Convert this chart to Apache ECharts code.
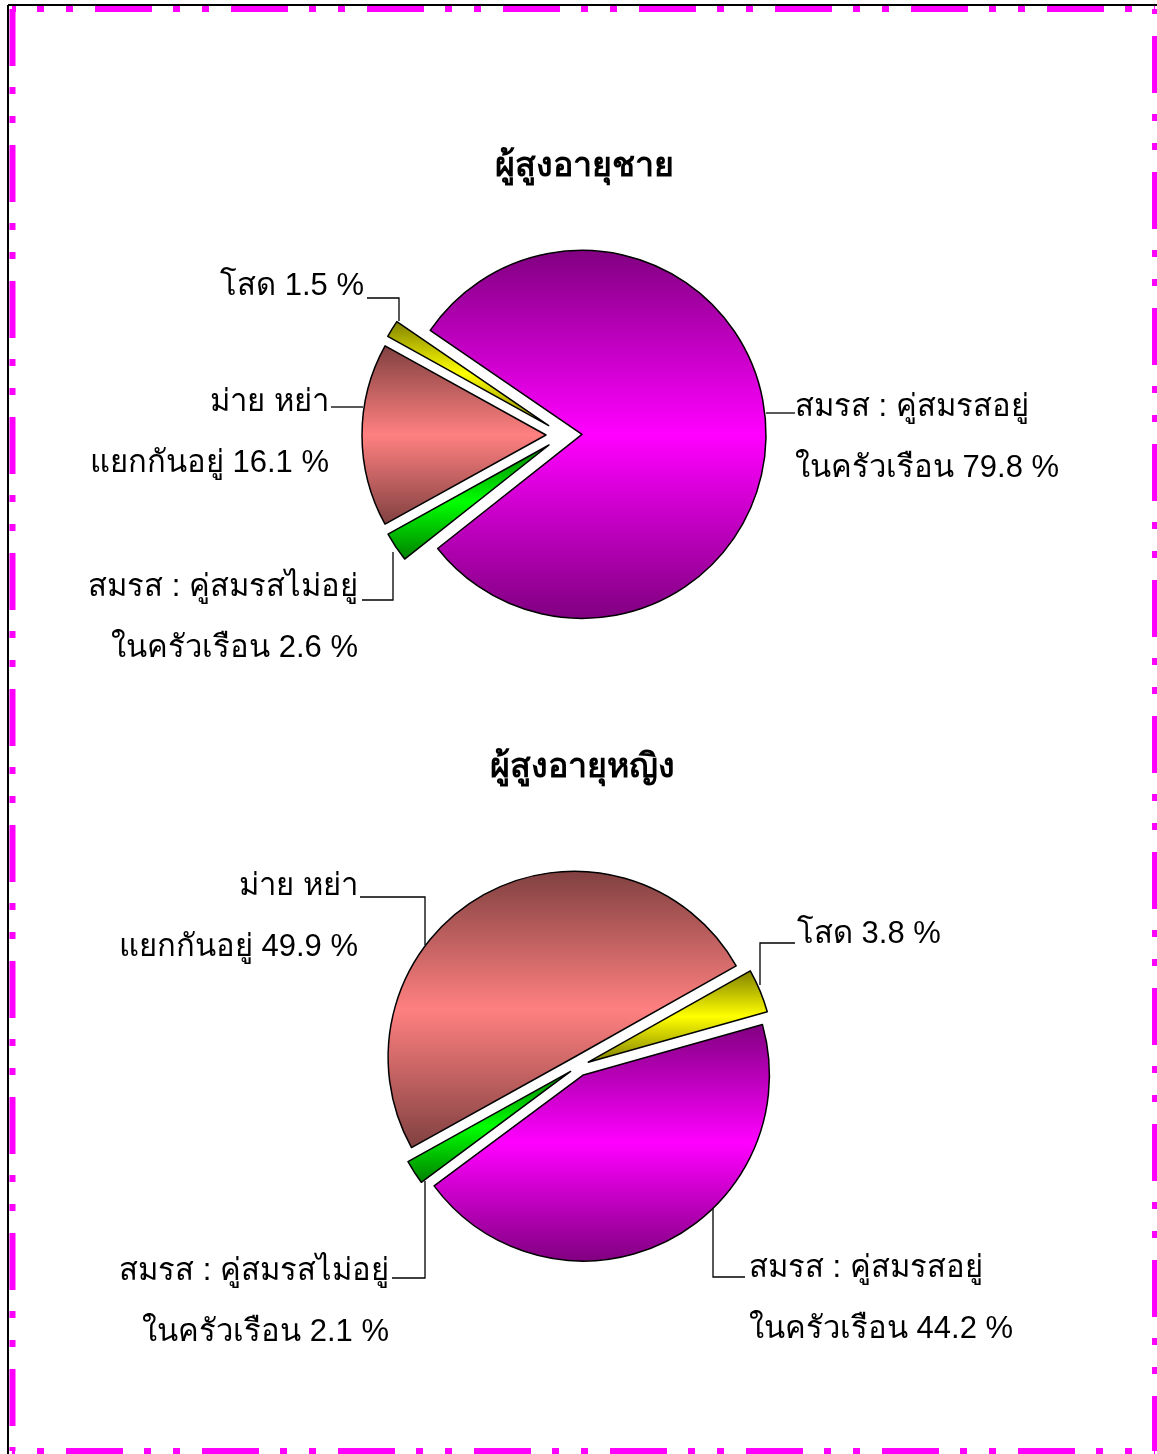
<!DOCTYPE html>
<html>
<head>
<meta charset="utf-8">
<title>ผู้สูงอายุ สถานภาพสมรส</title>
<script src="https://cdn.jsdelivr.net/npm/echarts@6/dist/echarts.min.js"></script>
<style>
  html, body { margin: 0; padding: 0; background: #fff; }
  #chart { width: 1157px; height: 1454px; }
</style>
</head>
<body>
<div id="chart"></div>
<script>
// categories, clockwise from the start angle
var categories = ['โสด', 'สมรส : คู่สมรสอยู่\nในครัวเรือน', 'สมรส : คู่สมรสไม่อยู่\nในครัวเรือน', 'ม่าย หย่า\nแยกกันอยู่']
var maleValues = [1.5, 79.8, 2.6, 16.1]
var femaleValues = [3.8, 44.2, 2.1, 49.9]
var titles = ['ผู้สูงอายุชาย', 'ผู้สูงอายุหญิง']

var brights = ['#ffff00', '#ff00ff', '#00ff00', '#ff8080']
var darks = ['#808000', '#800080', '#008000', '#804040']

var font = 'Liberation Sans, Arial, sans-serif'
var labelSize = 31
var labelLineHeight = 61

// label placement per slice: x, y = centre of first text line, leader line points
var maleLabels = [
  { x: 364, y: 286, align: 'right', line: [[399, 321], [399, 298], [367, 298]] },
  { x: 795, y: 407, align: 'left', line: [[766, 413], [795, 413]] },
  { x: 358, y: 587, align: 'right', line: [[393, 552], [393, 600], [362, 600]] },
  { x: 329, y: 402, align: 'right', line: [[363, 407], [331, 407]] }
]
var femaleLabels = [
  { x: 797, y: 934, align: 'left', line: [[760, 985], [760, 943], [795, 943]] },
  { x: 749, y: 1268, align: 'left', line: [[713, 1205], [713, 1277], [745, 1277]] },
  { x: 389, y: 1271, align: 'right', line: [[425, 1181], [425, 1278], [392, 1278]] },
  { x: 358, y: 886, align: 'right', line: [[425, 945], [425, 897], [360, 897]] }
]

function buildData(values) {
  return values.map(function (v, i) {
    return {
      name: categories[i],
      value: v,
      selected: true,
      itemStyle: {
        color: new echarts.graphic.LinearGradient(0, 0, 0, 1, [
          { offset: 0, color: darks[i] },
          { offset: 0.5, color: brights[i] },
          { offset: 1, color: darks[i] }
        ])
      }
    }
  })
}

function buildSeries(values, center, radius, offset, startAngle) {
  return {
    type: 'pie',
    center: center,
    radius: radius,
    startAngle: startAngle,
    clockwise: true,
    selectedMode: 'multiple',
    selectedOffset: offset,
    animation: false,
    silent: true,
    itemStyle: {
      borderColor: '#000',
      borderWidth: 1.5
    },
    emphasis: { disabled: true },
    select: { itemStyle: { borderColor: '#000', borderWidth: 1.5 } },
    label: { show: false },
    labelLine: { show: false },
    data: buildData(values)
  }
}

// slice labels with elbow leader lines
function buildLabels(values, labels) {
  var out = []
  values.forEach(function (v, i) {
    var p = labels[i]
    out.push({
      type: 'polyline',
      silent: true,
      shape: { points: p.line },
      style: { stroke: '#000', lineWidth: 1.3, fill: null }
    })
    out.push({
      type: 'text',
      silent: true,
      style: {
        text: categories[i] + ' ' + v.toFixed(1) + ' %',
        x: p.x,
        y: p.y - labelLineHeight / 2,
        align: p.align,
        verticalAlign: 'top',
        fontFamily: font,
        fontSize: labelSize,
        lineHeight: labelLineHeight,
        fill: '#000'
      }
    })
  })
  return out
}

// dash-dot-dot frame, each side with its own phase
var dash = [57, 21, 7, 22, 7, 22]
function frameLine(x1, y1, x2, y2, off) {
  return {
    type: 'line',
    silent: true,
    shape: { x1: x1, y1: y1, x2: x2, y2: y2 },
    style: { stroke: '#ff00ff', lineWidth: 6, lineDash: dash, lineDashOffset: off, lineCap: 'butt' }
  }
}

var chart = echarts.init(document.getElementById('chart'), null, { renderer: 'canvas' })
chart.setOption({
  backgroundColor: '#fff',
  animation: false,
  title: titles.map(function (t, i) {
    return {
      text: t,
      left: i === 0 ? 584 : 582,
      top: i === 0 ? 149 : 750,
      textAlign: 'center',
      padding: 0,
      textStyle: {
        fontFamily: font,
        fontSize: 34,
        fontWeight: 'bold',
        lineHeight: 36,
        color: '#000'
      }
    }
  }),
  graphic: [
    { type: 'line', silent: true, shape: { x1: 8, y1: 5, x2: 1157, y2: 5 }, style: { stroke: '#000', lineWidth: 2 } },
    { type: 'line', silent: true, shape: { x1: 8, y1: 5, x2: 8, y2: 1454 }, style: { stroke: '#000', lineWidth: 2 } },
    frameLine(12, 9, 1155, 9, 53),
    frameLine(12.5, 9, 12.5, 1451, 0),
    frameLine(1155, 9, 1155, 1451, 109),
    frameLine(12, 1451, 1155, 1451, 82)
  ].concat(buildLabels(maleValues, maleLabels), buildLabels(femaleValues, femaleLabels)),
  series: [
    buildSeries(maleValues, [564, 435], 184, 18, 151),
    buildSeries(femaleValues, [579, 1066], 186, 10, 29.4)
  ]
})
</script>
</body>
</html>
